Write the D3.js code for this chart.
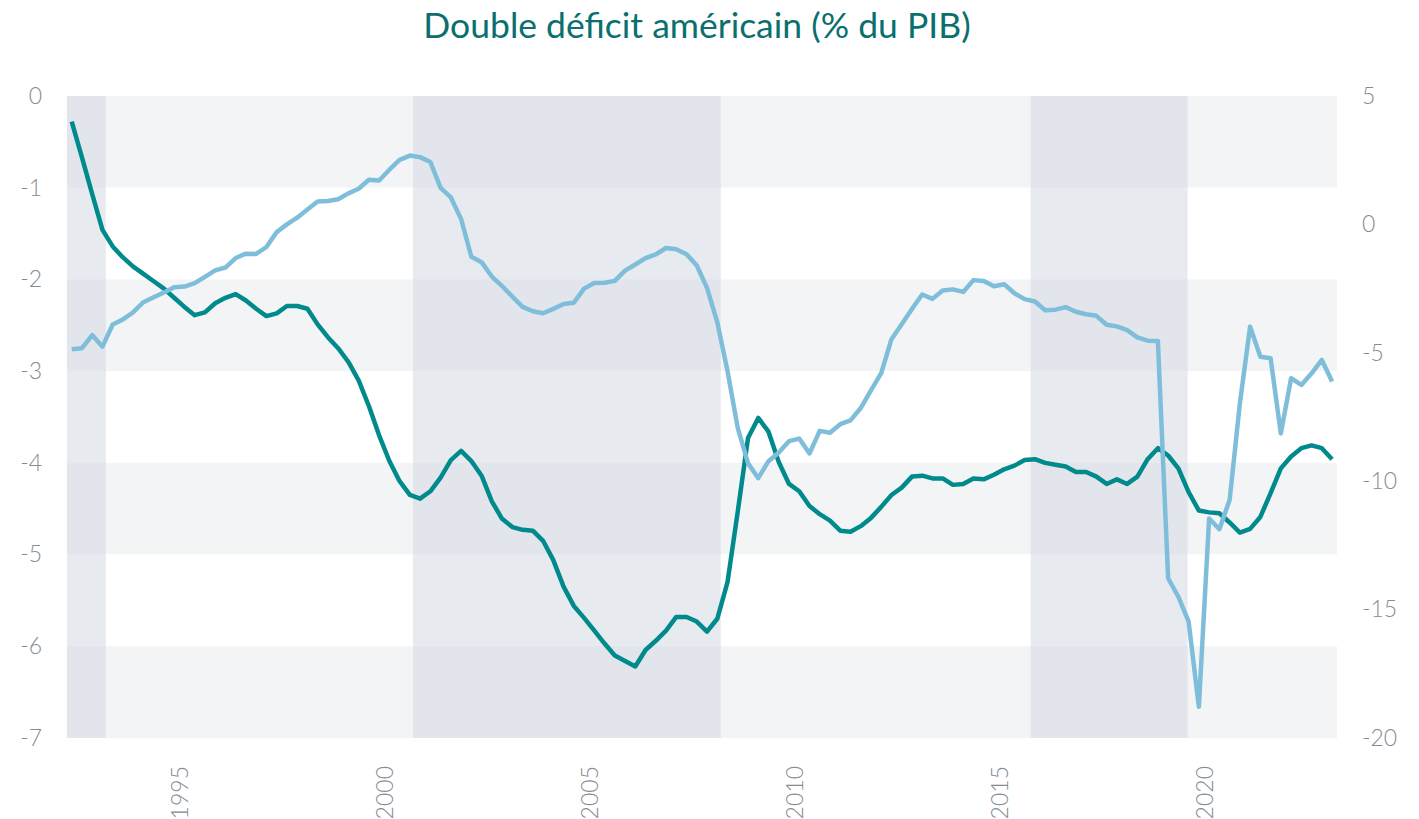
<!DOCTYPE html>
<html lang="fr">
<head>
<meta charset="utf-8">
<script src="https://cdn.jsdelivr.net/npm/d3@7"></script>
<style>
  body { margin: 0; background: #fff; }
  svg { display: block; }
</style>
</head>
<body>
<div id="chart"></div>
<script>
// solde courant (axe gauche) et solde budgétaire (axe droit), trimestriel, % du PIB
const firstQuarter = 1992.375; // milieu du T2 1992
const currentAccount = [
  -0.28, -0.67, -1.07, -1.46, -1.64, -1.76, -1.86, -1.94, -2.02, -2.10,
  -2.20, -2.30, -2.39, -2.36, -2.26, -2.20, -2.16, -2.23, -2.32, -2.40,
  -2.37, -2.29, -2.29, -2.32, -2.49, -2.63, -2.75, -2.90, -3.10, -3.38,
  -3.70, -3.98, -4.20, -4.35, -4.39, -4.31, -4.16, -3.97, -3.87, -3.98,
  -4.14, -4.42, -4.61, -4.70, -4.73, -4.74, -4.85, -5.06, -5.35, -5.56,
  -5.69, -5.83, -5.97, -6.10, -6.16, -6.22, -6.04, -5.94, -5.83, -5.68,
  -5.68, -5.73, -5.84, -5.70, -5.30, -4.53, -3.73, -3.51, -3.66, -3.99,
  -4.23, -4.31, -4.47, -4.56, -4.63, -4.74, -4.75, -4.69, -4.60, -4.48,
  -4.35, -4.27, -4.15, -4.14, -4.17, -4.17, -4.24, -4.23, -4.17, -4.18,
  -4.13, -4.07, -4.03, -3.97, -3.96, -4.00, -4.02, -4.04, -4.10, -4.10,
  -4.15, -4.23, -4.18, -4.23, -4.15, -3.96, -3.84, -3.92, -4.06, -4.32,
  -4.52, -4.54, -4.55, -4.65, -4.76, -4.72, -4.59, -4.33, -4.06, -3.93,
  -3.84, -3.81, -3.84, -3.96
];
const budgetBalance = [
  -4.86, -4.82, -4.31, -4.76, -3.90, -3.70, -3.42, -3.03, -2.84, -2.65,
  -2.45, -2.42, -2.29, -2.04, -1.79, -1.68, -1.31, -1.14, -1.15, -0.88,
  -0.30, 0.00, 0.26, 0.58, 0.89, 0.91, 0.98, 1.21, 1.39, 1.74,
  1.71, 2.13, 2.51, 2.68, 2.62, 2.43, 1.42, 1.05, 0.21, -1.26,
  -1.47, -2.03, -2.40, -2.81, -3.21, -3.38, -3.46, -3.29, -3.10, -3.05,
  -2.50, -2.28, -2.27, -2.20, -1.80, -1.56, -1.31, -1.17, -0.92, -0.97,
  -1.16, -1.60, -2.47, -3.81, -5.71, -7.92, -9.30, -9.88, -9.22, -8.88,
  -8.44, -8.34, -8.92, -8.04, -8.11, -7.78, -7.63, -7.15, -6.46, -5.79,
  -4.47, -3.89, -3.29, -2.73, -2.90, -2.57, -2.53, -2.63, -2.17, -2.20,
  -2.41, -2.33, -2.68, -2.91, -3.00, -3.34, -3.32, -3.22, -3.40, -3.50,
  -3.56, -3.91, -3.97, -4.12, -4.40, -4.53, -4.54, -13.78, -14.50, -15.47,
  -18.78, -11.45, -11.87, -10.73, -6.97, -3.98, -5.15, -5.21, -8.14, -5.99,
  -6.25, -5.80, -5.28, -6.12
];
// périodes ombrées (années décimales)
const shadedPeriods = [
  [1992.26, 1993.21],
  [2000.70, 2008.21],
  [2015.77, 2019.60]
];
const xTicks = [1995, 2000, 2005, 2010, 2015, 2020];
const leftTicks = [0, -1, -2, -3, -4, -5, -6, -7];
const rightTicks = [5, 0, -5, -10, -15, -20];
const title = "Double déficit américain (% du PIB)";

const width = 1419;
const height = 819;
const margin = { top: 96, right: 82, bottom: 81, left: 67 };

const svg = d3.select("#chart")
  .append("svg")
  .attr("width", width)
  .attr("height", height);

const x = d3.scaleLinear()
  .domain([1992.26, 2023.245])
  .range([margin.left, width - margin.right]);

const yLeft = d3.scaleLinear()
  .domain([-7, 0])
  .range([height - margin.bottom, margin.top]);

const yRight = d3.scaleLinear()
  .domain([-20, 5])
  .range([height - margin.bottom, margin.top]);

const dates = currentAccount.map((_, i) => firstQuarter + i * 0.25);

// tirets simples comme dans l'original (pas le signe moins unicode)
const plainFormat = (d) => String(d);

// bandes horizontales alternées
svg.append("g")
  .selectAll("rect")
  .data(d3.range(0, -7, -1))
  .enter()
  .append("rect")
  .attr("x", x.range()[0])
  .attr("width", x.range()[1] - x.range()[0])
  .attr("y", (d) => yLeft(d))
  .attr("height", (d) => yLeft(d - 1) - yLeft(d))
  .attr("fill", (d) => (d % 2 === 0 ? "#f3f4f6" : "#ffffff"));

// périodes ombrées
svg.append("g")
  .selectAll("rect")
  .data(shadedPeriods)
  .enter()
  .append("rect")
  .attr("x", (d) => x(d[0]))
  .attr("width", (d) => x(d[1]) - x(d[0]))
  .attr("y", margin.top)
  .attr("height", height - margin.bottom - margin.top)
  .attr("fill", "#d4d9e1")
  .attr("fill-opacity", 0.55);

const lineLeft = d3.line()
  .x((d, i) => x(dates[i]))
  .y((d) => yLeft(d));

const lineRight = d3.line()
  .x((d, i) => x(dates[i]))
  .y((d) => yRight(d));

svg.append("path")
  .datum(currentAccount)
  .attr("d", lineLeft)
  .attr("fill", "none")
  .attr("stroke", "#008a8c")
  .attr("stroke-width", 4.5)
  .attr("stroke-linejoin", "round");

svg.append("path")
  .datum(budgetBalance)
  .attr("d", lineRight)
  .attr("fill", "none")
  .attr("stroke", "#7fbedb")
  .attr("stroke-width", 4.5)
  .attr("stroke-linejoin", "round");

// axes
const tickFont = "Lato, 'Open Sans', sans-serif";
const tickColor = "#868b94";

const leftAxis = svg.append("g")
  .attr("transform", `translate(${margin.left - 25},0)`)
  .call(d3.axisLeft(yLeft).tickValues(leftTicks).tickFormat(plainFormat).tickSize(0).tickPadding(0));

const rightAxis = svg.append("g")
  .attr("transform", `translate(${width - margin.right + 25},0)`)
  .call(d3.axisRight(yRight).tickValues(rightTicks).tickFormat(plainFormat).tickSize(0).tickPadding(0));

const bottomAxis = svg.append("g")
  .attr("transform", `translate(0,${height - margin.bottom})`)
  .call(d3.axisBottom(x).tickValues(xTicks).tickFormat(plainFormat).tickSize(0));

bottomAxis.selectAll("text")
  .attr("transform", "rotate(-90)")
  .attr("x", -28)
  .attr("y", 0)
  .attr("dy", "0.35em")
  .style("text-anchor", "end");

[leftAxis, rightAxis, bottomAxis].forEach((g) => {
  g.select(".domain").remove();
  g.selectAll("text")
    .style("font-family", tickFont)
    .style("font-weight", 300)
    .style("font-size", "23px")
    .attr("fill", tickColor);
});

svg.append("text")
  .attr("x", 697)
  .attr("y", 38)
  .attr("text-anchor", "middle")
  .style("font-family", "Lato, 'Open Sans', sans-serif")
  .style("font-size", "35.5px")
  .attr("fill", "#0a6f6f")
  .text(title);
</script>
</body>
</html>
